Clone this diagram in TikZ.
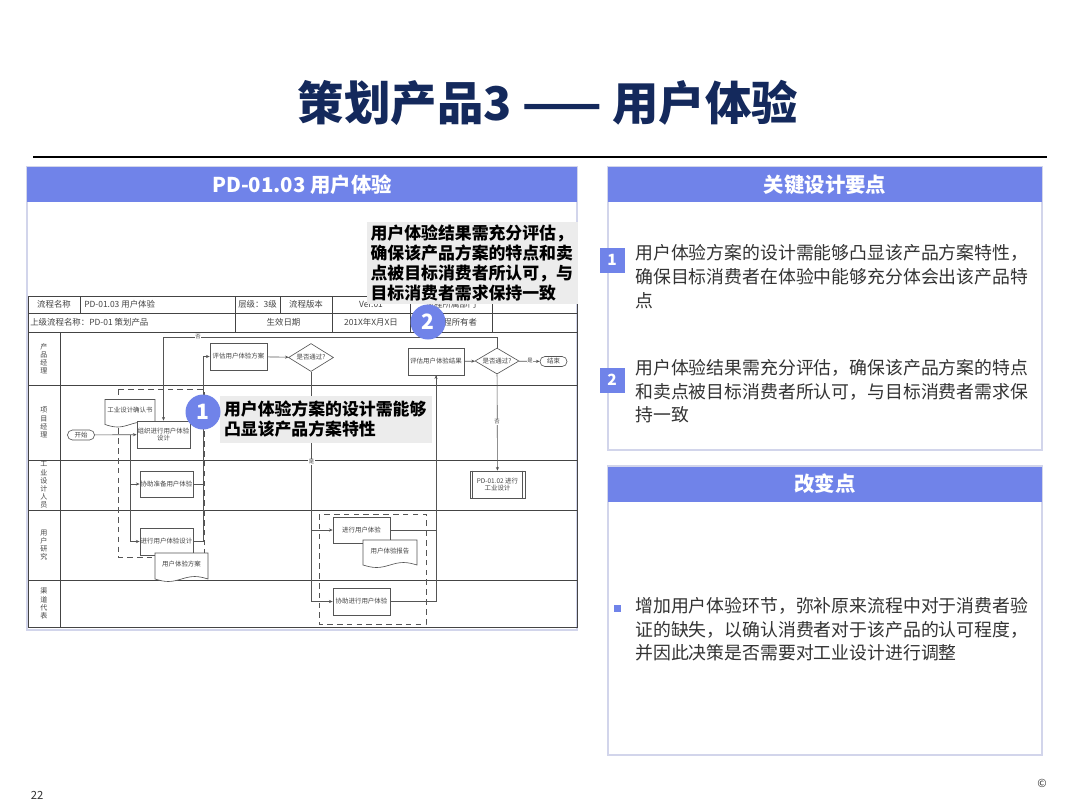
\documentclass[tikz,border=0pt]{standalone}
\usepackage{fontspec}
\setmainfont{Noto Sans CJK SC}
\usepackage{tikz}
\usetikzlibrary{shapes.geometric, arrows.meta, positioning, calc}

\definecolor{cPeri}{HTML}{7083E9}
\definecolor{cNavy}{HTML}{14295C}
\definecolor{cFrame}{HTML}{D2D5EB}
\definecolor{cBody}{HTML}{333333}
\definecolor{cLine}{HTML}{555555}
\definecolor{cNote}{HTML}{ECECEC}
\definecolor{cTbl}{HTML}{444444}

\newlength{\pxl}
\setlength{\pxl}{0.025cm}

\tikzset{
  hdrbar/.style={rectangle, fill=cPeri, text=white, inner sep=0pt,
    minimum width=#1\pxl, minimum height=35\pxl,
    font=\bfseries\fontsize{14.5}{16}\selectfont},
  panel/.style={draw=cFrame, line width=0.9pt, fill=white},
  tbl/.style={draw=cTbl, line width=0.45pt},
  tbltext/.style={font=\fontsize{6}{7}\selectfont, text=cTbl, inner sep=0pt},
  lanelbl/.style={font=\fontsize{5}{5.8}\selectfont, text=cTbl, align=center, inner sep=0pt},
  fcline/.style={draw=cLine, line width=0.45pt},
  fcbox/.style={rectangle, fcline, fill=white, align=center, inner sep=0.5pt,
    minimum width=55\pxl, minimum height=27\pxl,
    font=\fontsize{4.6}{5.6}\selectfont, text=cTbl},
  fcdoc/.style={fcbox, draw=none, fill=none},
  fcdec/.style={diamond, fcline, fill=white, inner sep=0pt, aspect=1.6,
    minimum width=45\pxl, minimum height=28\pxl,
    font=\fontsize{4.6}{5.6}\selectfont, text=cTbl},
  fcterm/.style={rectangle, rounded corners=3.5pt, fcline, fill=white,
    inner sep=0pt, minimum width=27\pxl, minimum height=10\pxl,
    font=\fontsize{4.6}{5.6}\selectfont, text=cTbl},
  fcarrow/.style={fcline, -{Stealth[length=2.6pt, width=2.2pt]}},
  grp/.style={draw=cLine, line width=0.55pt, dash pattern=on 4pt off 3pt},
  yesno/.style={font=\fontsize{3.8}{4}\selectfont, text=cTbl, fill=white, inner sep=0.4pt},
  badge/.style={circle, fill=cPeri, text=white, inner sep=0pt, minimum size=35\pxl,
    font=\bfseries\fontsize{15}{16}\selectfont},
  note/.style={fill=cNote, align=left, inner xsep=4\pxl, inner ysep=0pt, text=black,
    font=\bfseries\fontsize{12}{14.3}\selectfont},
  numsq/.style={rectangle, fill=cPeri, text=white, inner sep=0pt, minimum size=25\pxl,
    font=\bfseries\fontsize{11}{12}\selectfont},
  bodytext/.style={align=left, inner sep=0pt, text=cBody,
    font=\fontsize{12.7}{16.9}\selectfont},
  titletext/.style={font=\bfseries\fontsize{33}{37}\selectfont, text=cNavy, inner sep=0pt},
}

% document shape: name, x, y, half width, half height, text
\newcommand{\docnode}[6]{%
  \filldraw[fcline, fill=white]
    (#2-#4,#3-#5) -- (#2-#4,#3+#5)
    sin (#2-#4/2,#3+#5+2.5) cos (#2,#3+#5)
    sin (#2+#4/2,#3+#5-2.5) cos (#2+#4,#3+#5)
    -- (#2+#4,#3-#5) -- cycle;
  \node[fcdoc] (#1) at (#2,#3-1.5) {#6};
}

\begin{document}
\begin{tikzpicture}[x=0.025cm, y=-0.025cm]
  \useasboundingbox (0,0) rectangle (1080,810);
  \fill[white] (0,0) rectangle (1080,810);

  % Title
  \node[titletext] (title) at (548,103) {策划产品3 —— 用户体验};
  \draw[line width=0.9pt] (33,157) -- (1047,157);

  % Left panel
  \draw[panel] (27,167) rectangle (577,630);
  \node[hdrbar=550] (lefthdr) at (302,184.5) {PD-01.03 用户体验};

  % Process table
  \draw[tbl] (28,296) rectangle (577,627);
  \foreach \yy in {313,332,385,460,510,580}
    \draw[tbl] (28,\yy) -- (577,\yy);
  \draw[tbl] (60,332) -- (60,627);
  \foreach \xx in {80,235,280,332,410,492}
    \draw[tbl] (\xx,296) -- (\xx,313);
  \foreach \xx in {235,332,410,492}
    \draw[tbl] (\xx,313) -- (\xx,332);

  \node[tbltext] (hName) at (54,304.5) {流程名称};
  \node[tbltext, anchor=west] (hNameVal) at (84,304.5) {PD-01.03 用户体验};
  \node[tbltext] (hLevel) at (257.5,304.5) {层级：3级};
  \node[tbltext] (hVer) at (306,304.5) {流程版本};
  \node[tbltext] (hVerVal) at (371,304.5) {Ver.01};
  \node[tbltext] (hDept) at (451,304.5) {流程所属部门};
  \node[tbltext, anchor=west] (hParent) at (30,322.5) {上级流程名称：PD-01 策划产品};
  \node[tbltext] (hDate) at (283.5,322.5) {生效日期};
  \node[tbltext] (hDateVal) at (371,322.5) {201X年X月X日};
  \node[tbltext] (hOwner) at (456,322.5) {流程所有者};

  % Lanes
  \node[lanelbl] (lanePM) at (44,358.5) {产\\品\\经\\理};
  \node[lanelbl] (laneProj) at (44,422.5) {项\\目\\经\\理};
  \node[lanelbl] (laneID) at (44,485) {工\\业\\设\\计\\人\\员};
  \node[lanelbl] (laneUX) at (44,545) {用\\户\\研\\究};
  \node[lanelbl] (laneCh) at (44,603.5) {渠\\道\\代\\表};

  % Dashed groups
  \draw[grp] (118,389) rectangle (204,557);
  \draw[grp] (319,514) rectangle (426,624);

  % Flow nodes
  \node[fcterm] (start) at (81,435) {开始};
  \docnode{confirm}{130}{412}{25}{12.5}{工业设计确认书}
  \node[fcbox, minimum width=53\pxl] (organize) at (163.5,434.5) {组织进行用户体验\\设计};
  \node[fcbox, minimum width=53\pxl, minimum height=26\pxl] (assist) at (166.5,484) {协助准备用户体验};
  \node[fcbox, minimum width=53\pxl] (design) at (166.5,541.5) {进行用户体验设计};
  \docnode{plan}{181.5}{566}{26.5}{13}{用户体验方案}
  \node[fcbox, minimum width=57\pxl] (evalplan) at (238.5,356.5) {评估用户体验方案};
  \node[fcdec] (pass1) at (311,357.5) {是否通过?};
  \node[fcbox, minimum width=57\pxl, minimum height=26\pxl] (trial) at (361.5,530) {进行用户体验};
  \docnode{report}{390}{552.5}{27}{12.5}{用户体验报告}
  \node[fcbox, minimum width=57\pxl] (helptrial) at (361.5,601.5) {协助进行用户体验};
  \node[fcbox, minimum width=56\pxl] (evalres) at (436,361.5) {评估用户体验结果};
  \node[fcdec, minimum width=44\pxl, minimum height=26\pxl] (pass2) at (497,361) {是否通过?};
  \node[fcterm] (finish) at (553.5,361.5) {结束};
  \node[fcbox] (indesign) at (497.5,484.5) {PD-01.02 进行\\工业设计};
  \draw[fcline] ([xshift=3\pxl]indesign.north west) -- ([xshift=3\pxl]indesign.south west);
  \draw[fcline] ([xshift=-3\pxl]indesign.north east) -- ([xshift=-3\pxl]indesign.south east);

  % Arrows
  \coordinate (split) at (130,435);
  \coordinate (riser) at (203,356.5);
  \coordinate (loop) at (163.5,337);
  \draw[fcarrow] (start) -- (organize);
  \draw[fcarrow] (split) |- (design);
  \draw[fcarrow] (split |- assist.west) -- (assist);
  \draw[fcarrow] (design) -| (riser) -- (evalplan);
  \draw[fcline] (assist) -- (assist -| riser);
  \draw[fcarrow] (evalplan) -- (pass1);
  \draw[fcarrow] (pass1) |- (trial);
  \draw[fcarrow] (pass1) |- (helptrial);
  \draw[fcarrow] (trial) -| (evalres);
  \draw[fcline] (helptrial) -| (evalres);
  \draw[fcarrow] (evalres) -- (pass2);
  \draw[fcarrow] (pass2) -- (finish);
  \draw[fcarrow] (pass2) -- (indesign);
  \draw[fcarrow] (pass2.north) |- (loop) -- (organize);

  % Labels
  \node[yesno] (yes1) at (311.5,462) {是};
  \node[yesno] (no1) at (198,337) {否};
  \node[yesno] (no2) at (497,422) {否};
  \node[yesno] (yes2) at (530,361) {是};

  % Right panel: key points
  \draw[panel] (608,167) rectangle (1042,450);
  \node[hdrbar=434] (keyhdr) at (825,184.5) {关键设计要点};
  \node[numsq] (k1num) at (612,260) {1};
  \node[bodytext, anchor=north west] (k1txt) at (635,244.5) {
    用户体验方案的设计需能够凸显该产品方案特性，\\
    确保目标消费者在体验中能够充分体会出该产品特\\
    点
  };
  \node[numsq] (k2num) at (612,380) {2};
  \node[bodytext, anchor=north west] (k2txt) at (635,359) {
    用户体验结果需充分评估，确保该产品方案的特点\\
    和卖点被目标消费者所认可，与目标消费者需求保\\
    持一致
  };

  % Right panel: changes
  \draw[panel] (608,466) rectangle (1042,755);
  \node[hdrbar=434] (chghdr) at (825,484) {改变点};
  \node[rectangle, fill=cPeri, minimum size=7\pxl, inner sep=0pt] (chgdot) at (617,608) {};
  \node[bodytext, anchor=north west] (chgtxt) at (635,597) {
    增加用户体验环节，弥补原来流程中对于消费者验\\
    证的缺失，以确认消费者对于该产品的认可程度，\\
    并因此决策是否需要对工业设计进行调整
  };

  % Callouts
  \node[note, text width=204\pxl, minimum height=47\pxl] (note1) at (326,419.5) {
    用户体验方案的设计需能够\\
    凸显该产品方案特性
  };
  \node[badge] (badge1) at (203,412) {1};
  \node[note, text width=203\pxl, minimum height=82\pxl] (note2) at (472,263) {
    用户体验结果需充分评估，\\
    确保该产品方案的特点和卖\\
    点被目标消费者所认可，与\\
    目标消费者需求保持一致
  };
  \node[badge] (badge2) at (428,322) {2};

  % Footer
  \node[font=\fontsize{8}{9}\selectfont, text=cBody] (pageno) at (37,795) {22};
  \node[font=\fontsize{8}{9}\selectfont, text=cBody] (copy) at (1042,783) {©};

\end{tikzpicture}
\end{document}
